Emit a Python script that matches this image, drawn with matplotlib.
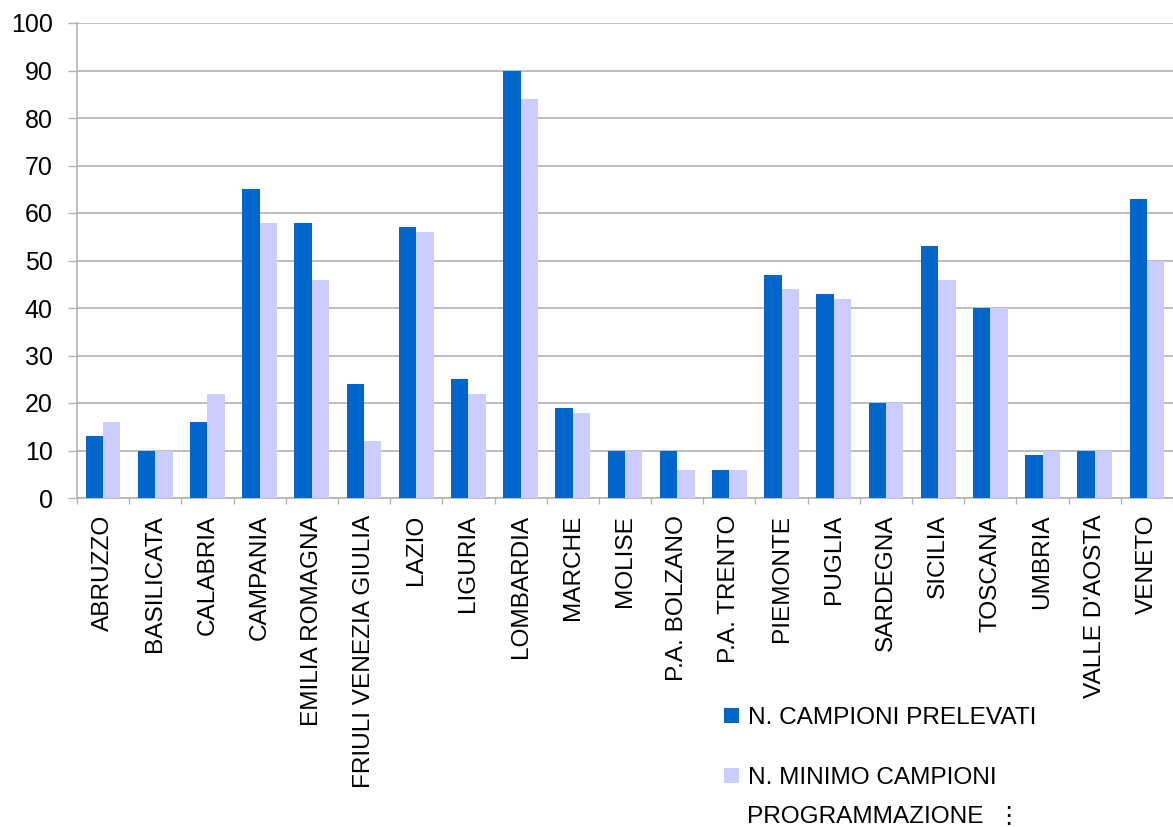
import numpy as np
import matplotlib
matplotlib.use('Agg')
import matplotlib.pyplot as plt

plt.rcParams['font.family'] = ['Liberation Sans', 'DejaVu Sans']

regions = ['ABRUZZO', 'BASILICATA', 'CALABRIA', 'CAMPANIA', 'EMILIA ROMAGNA',
           'FRIULI VENEZIA GIULIA', 'LAZIO', 'LIGURIA', 'LOMBARDIA', 'MARCHE',
           'MOLISE', 'P.A. BOLZANO', 'P.A. TRENTO', 'PIEMONTE', 'PUGLIA',
           'SARDEGNA', 'SICILIA', 'TOSCANA', 'UMBRIA', "VALLE D'AOSTA", 'VENETO']
prelevati = [13, 10, 16, 65, 58, 24, 57, 25, 90, 19, 10, 10, 6, 47, 43, 20, 53, 40, 9, 10, 63]
minimo = [16, 10, 22, 58, 46, 12, 56, 22, 84, 18, 10, 6, 6, 44, 42, 20, 46, 40, 10, 10, 50]
yticks = [0, 10, 20, 30, 40, 50, 60, 70, 80, 90, 100]

label1 = 'N. CAMPIONI PRELEVATI'
label2 = 'N. MINIMO CAMPIONI'
label2b = 'PROGRAMMAZIONE  \u22ee'

fig = plt.figure(figsize=(11.73, 8.27), dpi=100)
ax = fig.add_axes([77/1173, 1-498/827, 1-77/1173, (498-23)/827])

x = np.arange(len(regions))
w = 1/3
b1 = ax.bar(x - w/2, prelevati, w, color='#0066cc', zorder=3)
b2 = ax.bar(x + w/2, minimo, w, color='#ccccff', zorder=3)

ax.set_xlim(-0.5, len(regions) - 0.5)
ax.set_ylim(0, 100)
ax.set_yticks(yticks)
ax.yaxis.grid(True, color='#b3b3b3', linewidth=1.2, zorder=0)
ax.tick_params(axis='y', labelsize=18, length=6.5, width=1, color='#b3b3b3', pad=11)

ax.set_xticks(x)
ax.set_xticklabels(regions, rotation=90, fontsize=17.6, va='top', ha='center')
ax.set_xticks(np.arange(len(regions) + 1) - 0.5, minor=True)
ax.tick_params(axis='x', which='major', length=0, pad=12)
ax.tick_params(axis='x', which='minor', length=4.5, width=1, color='#b3b3b3')

for s in ['top', 'right']:
    ax.spines[s].set_visible(False)
for s in ['left', 'bottom']:
    ax.spines[s].set_color('#b3b3b3')
    ax.spines[s].set_linewidth(1.2)

fig.legend([b1, b2], [label1, label2], loc='upper left',
           bbox_to_anchor=(724/1173, 1-707/827), frameon=False, fontsize=17.6,
           handlelength=0.6, handleheight=0.6, handletextpad=0.38,
           labelspacing=1.55, borderpad=0, borderaxespad=0)
fig.text(747/1173, 1-817/827, label2b, fontsize=17.6, va='center', ha='left')

fig.savefig('out.png', dpi=100)
